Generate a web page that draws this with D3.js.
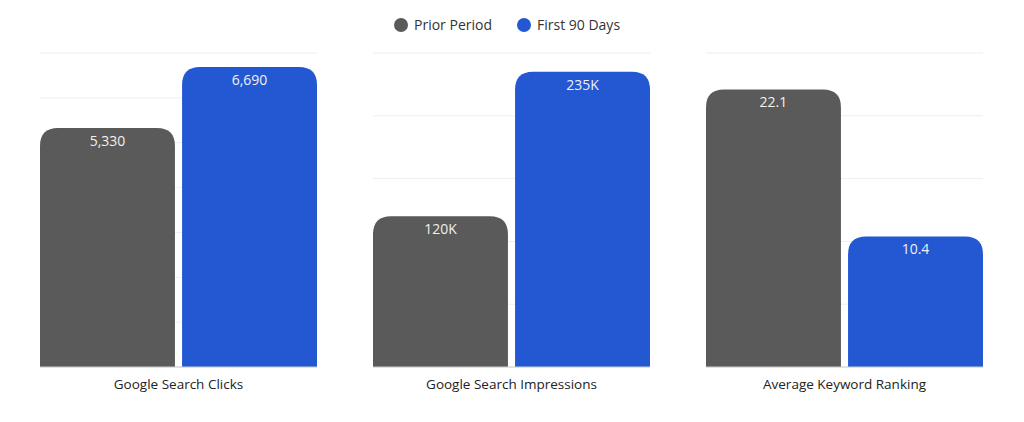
<!DOCTYPE html><html><head><meta charset="utf-8">
<script src="https://cdn.jsdelivr.net/npm/d3@7"></script>
<style>body{margin:0;background:#fff}text{font-family:"Open Sans",sans-serif}</style></head><body>
<svg id="c" width="1024" height="422"></svg>
<script>
const categories=["Google Search Clicks","Google Search Impressions","Average Keyword Ranking"];
const series=["Prior Period","First 90 Days"];
const prior=[5330,120000,22.1];
const first90=[6690,235000,10.4];
const labelsPrior=["5,330","120K","22.1"];
const labelsFirst=["6,690","235K","10.4"];
const maxes=[7000,250000,25];
const tickSteps=[1000,50000,5];
const colors=["#5a5a5a","#2458d3"];
const svg=d3.select("#c");
const plotTop=53,base=367;
const panelX=d3.scalePoint().domain(d3.range(3)).range([40,706]);
const pw=277;
categories.forEach((cat,i)=>{
  const g=svg.append("g").attr("transform",`translate(${panelX(i)},0)`);
  const y=d3.scaleLinear().domain([0,maxes[i]]).range([base,plotTop]);
  const x=d3.scaleBand().domain(series).range([0,pw]).paddingInner(0.05);
  g.selectAll("line.g").data(d3.range(0,maxes[i]+1e-9,tickSteps[i])).join("line")
    .attr("x1",0).attr("x2",pw).attr("y1",d=>y(d)).attr("y2",d=>y(d))
    .attr("stroke","#eeeeee").attr("stroke-width",1);
  const vals=[prior[i],first90[i]],labs=[labelsPrior[i],labelsFirst[i]];
  series.forEach((s,j)=>{
    const x0=x(s),w=x.bandwidth(),yt=y(vals[j]),r=18;
    g.append("path").attr("fill",colors[j])
      .attr("d",`M${x0},${base}V${yt+r}Q${x0},${yt} ${x0+r},${yt}H${x0+w-r}Q${x0+w},${yt} ${x0+w},${yt+r}V${base}Z`);
    g.append("text").attr("x",x0+w/2).attr("y",yt+18).attr("text-anchor","middle")
      .attr("fill","#f0f0f0").attr("font-size",14).text(labs[j]);
  });
  g.append("line").attr("x1",0).attr("x2",pw).attr("y1",base).attr("y2",base).attr("stroke","#cccccc");
  g.append("text").attr("x",pw/2).attr("y",389).attr("text-anchor","middle")
    .attr("fill","#222").attr("font-size",13.5).text(cat);
});
const leg=[{x:401},{x:524}];
series.forEach((s,j)=>{
  svg.append("circle").attr("cx",leg[j].x).attr("cy",25).attr("r",7).attr("fill",colors[j]);
  svg.append("text").attr("x",leg[j].x+13).attr("y",30).attr("fill","#333").attr("font-size",14).text(s);
});
</script></body></html>
